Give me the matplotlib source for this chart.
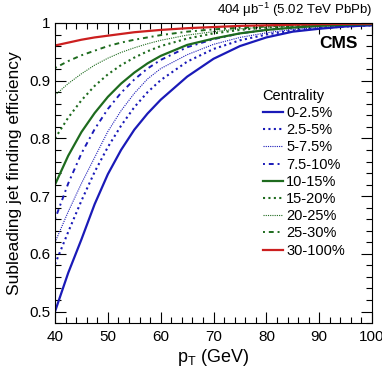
import matplotlib
matplotlib.use("Agg")
import matplotlib.pyplot as plt
from matplotlib.ticker import MultipleLocator

plt.rcParams['font.family'] = ['Liberation Sans', 'DejaVu Sans']
plt.rcParams['mathtext.fontset'] = 'custom'
plt.rcParams['mathtext.rm'] = 'Liberation Sans'
plt.rcParams['mathtext.it'] = 'Liberation Sans'

# jet pT points (GeV)
pt = [40, 42.5, 45, 47.5, 50, 52.5, 55, 57.5, 60, 65, 70, 75, 80, 85, 90, 95, 100]

# efficiency, one list per centrality bin
eff_0_25 = [0.500, 0.567, 0.625, 0.686, 0.738, 0.780, 0.815, 0.843, 0.867,
            0.907, 0.938, 0.960, 0.975, 0.985, 0.990, 0.994, 0.996]
eff_25_5 = [0.582, 0.638, 0.692, 0.742, 0.785, 0.822, 0.854, 0.880, 0.901,
            0.933, 0.955, 0.970, 0.980, 0.987, 0.991, 0.994, 0.996]
eff_5_75 = [0.620, 0.673, 0.722, 0.767, 0.812, 0.848, 0.878, 0.903, 0.921,
            0.945, 0.963, 0.975, 0.983, 0.989, 0.992, 0.995, 0.997]
eff_75_10 = [0.660, 0.722, 0.774, 0.816, 0.851, 0.879, 0.902, 0.921, 0.936,
             0.958, 0.972, 0.982, 0.988, 0.992, 0.995, 0.997, 0.998]
eff_10_15 = [0.720, 0.770, 0.811, 0.844, 0.872, 0.895, 0.914, 0.930, 0.943,
             0.962, 0.973, 0.982, 0.988, 0.992, 0.995, 0.997, 0.998]
eff_15_20 = [0.800, 0.836, 0.866, 0.891, 0.911, 0.927, 0.940, 0.951, 0.960,
             0.973, 0.982, 0.988, 0.992, 0.995, 0.996, 0.998, 0.998]
eff_20_25 = [0.875, 0.895, 0.912, 0.927, 0.939, 0.949, 0.957, 0.964, 0.970,
             0.979, 0.985, 0.990, 0.993, 0.995, 0.997, 0.998, 0.999]
eff_25_30 = [0.922, 0.934, 0.944, 0.952, 0.960, 0.966, 0.971, 0.975, 0.979,
             0.985, 0.989, 0.992, 0.994, 0.996, 0.997, 0.998, 0.999]
eff_30_100 = [0.961, 0.966, 0.971, 0.975, 0.978, 0.981, 0.984, 0.986, 0.988,
              0.991, 0.993, 0.995, 0.996, 0.997, 0.998, 0.9985, 0.999]

labels = ['0-2.5%', '2.5-5%', '5-7.5%', '7.5-10%', '10-15%', '15-20%', '20-25%', '25-30%', '30-100%']

blue = '#1a1ab8'
green = '#1e6b1e'
red = '#cc1f1f'

fig = plt.figure(figsize=(3.82, 3.77), dpi=100)
ax = fig.add_axes([0.144, 0.143, 0.830, 0.796])

ax.plot(pt, eff_0_25, color=blue, lw=1.6, ls='-', label=labels[0])
ax.plot(pt, eff_25_5, color=blue, lw=1.5, ls=(0, (1, 1.6)), label=labels[1])
ax.plot(pt, eff_5_75, color=blue, lw=0.8, ls=(0, (1, 1)), label=labels[2])
ax.plot(pt, eff_75_10, color=blue, lw=1.4, ls=(0, (1, 2, 2.5, 2)), label=labels[3])
ax.plot(pt, eff_10_15, color=green, lw=1.6, ls='-', label=labels[4])
ax.plot(pt, eff_15_20, color=green, lw=1.5, ls=(0, (1, 1.6)), label=labels[5])
ax.plot(pt, eff_20_25, color=green, lw=0.8, ls=(0, (1, 1)), label=labels[6])
ax.plot(pt, eff_25_30, color=green, lw=1.4, ls=(0, (1, 2, 2.5, 2)), label=labels[7])
ax.plot(pt, eff_30_100, color=red, lw=1.6, ls='-', label=labels[8])

ax.set_xlim(40, 100)
ax.set_ylim(0.48, 1.0)
ax.xaxis.set_major_locator(MultipleLocator(10))
ax.xaxis.set_minor_locator(MultipleLocator(2))
ax.yaxis.set_minor_locator(MultipleLocator(0.02))
ax.set_yticks([0.5, 0.6, 0.7, 0.8, 0.9, 1.0])
ax.set_yticklabels(['0.5', '0.6', '0.7', '0.8', '0.9', '1'])
ax.tick_params(which='both', direction='in', top=True, right=True, labelsize=11)
ax.tick_params(which='major', length=8, width=0.8)
ax.tick_params(which='minor', length=4, width=0.8)
ax.tick_params(axis='x', pad=5)

ax.set_xlabel(r'p$_\mathregular{T}$ (GeV)', fontsize=13, labelpad=2)
ax.set_ylabel('Subleading jet finding efficiency', fontsize=12.5, labelpad=5)

ax.text(1.0, 1.012, r'404 μb$^{\mathregular{-1}}$ (5.02 TeV PbPb)', transform=ax.transAxes,
        ha='right', va='bottom', fontsize=9.5)
ax.text(0.955, 0.932, 'CMS', transform=ax.transAxes, ha='right', va='center',
        fontsize=12.5, fontweight='bold')

leg = ax.legend(title='Centrality', loc='upper left', bbox_to_anchor=(0.632, 0.805),
                frameon=False, fontsize=10.5, title_fontsize=10.5, handlelength=1.4,
                handletextpad=0.2, labelspacing=0.22, borderpad=0)
leg._legend_box.align = 'left'

fig.savefig('out.png', dpi=100)
